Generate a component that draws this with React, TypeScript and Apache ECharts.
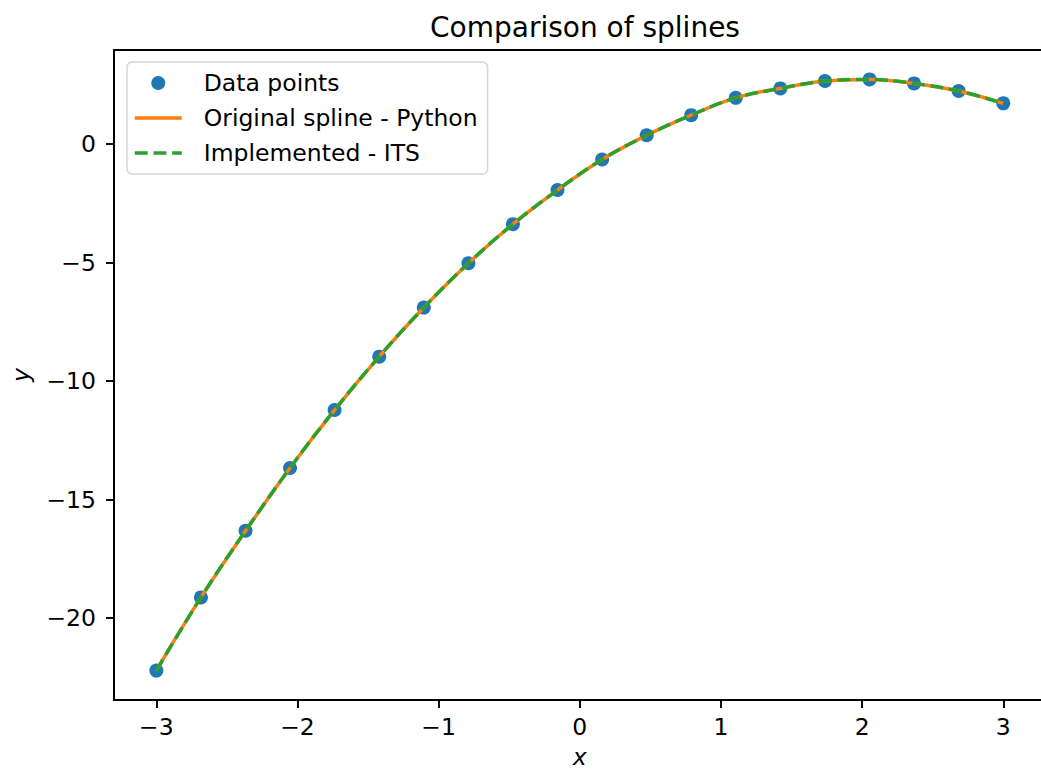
import React, { useEffect, useRef } from "react";
import * as echarts from "echarts";

const xValues = [-3, -2.684, -2.368, -2.053, -1.737, -1.421, -1.105, -0.789, -0.474, -0.158, 0.158, 0.474, 0.789, 1.105, 1.421, 1.737, 2.053, 2.368, 2.684, 3];
const yValues = [-22.22, -19.13, -16.32, -13.67, -11.22, -8.97, -6.9, -5.03, -3.38, -1.94, -0.65, 0.37, 1.22, 1.95, 2.35, 2.66, 2.73, 2.56, 2.24, 1.72];
const xTicks = [-3, -2, -1, 0, 1, 2, 3];
const yTicks = [-20, -15, -10, -5, 0];
const seriesNames = ["Data points", "Original spline - Python", "Implemented - ITS"];

const FONT = "DejaVu Sans";
const BLUE = "#1f77b4";
const ORANGE = "#ff7f0e";
const GREEN = "#2ca02c";
const DASH = [13, 5.7];

export default function App() {
  const ref = useRef<HTMLDivElement>(null);
  useEffect(() => {
    if (!ref.current) return;
    const chart = echarts.init(ref.current, null, { renderer: "svg" });
    const pts = xValues.map((x, i) => [x, yValues[i]]);
    const fmt = (v: number) => (v < 0 ? "\u2212" + Math.abs(v) : String(v));
    chart.setOption({
      animation: false,
      backgroundColor: "#ffffff",
      textStyle: { fontFamily: FONT },
      title: {
        text: "Comparison of splines",
        left: 580,
        top: 8,
        textAlign: "center",
        textStyle: { fontFamily: FONT, fontSize: 28, fontWeight: "normal", color: "#000" },
      },
      legend: {
        orient: "vertical",
        left: 127,
        top: 62,
        itemWidth: 47,
        itemHeight: 14,
        itemGap: 11,
        padding: [9, 10, 9, 6],
        backgroundColor: "#ffffff",
        borderColor: "#d6d6d6",
        borderWidth: 1.5,
        borderRadius: 5,
        data: [
          { name: seriesNames[0], itemStyle: { color: BLUE, opacity: 1 } },
          {
            name: seriesNames[1],
            itemStyle: { opacity: 0 },
            lineStyle: { color: ORANGE, width: 3.5, type: "solid" },
          },
          {
            name: seriesNames[2],
            itemStyle: { opacity: 0 },
            lineStyle: { color: GREEN, width: 3.5, type: DASH },
          },
        ],
        textStyle: { fontFamily: FONT, fontSize: 23.5, color: "#000", lineHeight: 24, padding: [0, 0, 0, 17] },
      },
      grid: {
        left: 114,
        top: 50,
        width: 931.6,
        height: 650,
        outerBoundsMode: "none",
        containLabel: false,
        show: true,
        borderColor: "#000",
        borderWidth: 1.9,
        backgroundColor: "transparent",
      },
      xAxis: {
        type: "value",
        min: -3.3,
        max: 3.3,
        name: "x",
        nameLocation: "middle",
        nameGap: 46,
        nameTextStyle: { fontFamily: FONT, fontSize: 23.5, fontStyle: "italic", color: "#000", lineHeight: 22 },
        axisLine: { show: true, onZero: false, lineStyle: { color: "#000", width: 1.9 } },
        axisTick: { show: true, length: 8, lineStyle: { color: "#000", width: 1.9 }, customValues: xTicks },
        axisLabel: { fontFamily: FONT, fontSize: 23.5, color: "#000", margin: 15, customValues: xTicks, formatter: fmt },
        splitLine: { show: false },
      },
      yAxis: {
        type: "value",
        min: -23.46,
        max: 3.97,
        name: "y",
        nameLocation: "middle",
        nameGap: 82,
        nameTextStyle: { fontFamily: FONT, fontSize: 23.5, fontStyle: "italic", color: "#000" },
        axisLine: { show: true, onZero: false, lineStyle: { color: "#000", width: 1.9 } },
        axisTick: { show: true, length: 8, lineStyle: { color: "#000", width: 1.9 }, customValues: yTicks },
        axisLabel: { fontFamily: FONT, fontSize: 23.5, color: "#000", margin: 18, customValues: yTicks, formatter: fmt },
        splitLine: { show: false },
      },
      series: [
        {
          name: seriesNames[0],
          type: "scatter",
          data: pts,
          symbol: "circle",
          symbolSize: 14,
          itemStyle: { color: BLUE, opacity: 1 },
          z: 2,
        },
        {
          name: seriesNames[1],
          type: "line",
          data: pts,
          smooth: 0.4,
          symbol: "none",
          showSymbol: false,
          lineStyle: { color: ORANGE, width: 3.5 },
          itemStyle: { color: ORANGE },
          z: 3,
        },
        {
          name: seriesNames[2],
          type: "line",
          data: pts,
          smooth: 0.4,
          symbol: "none",
          showSymbol: false,
          lineStyle: { color: GREEN, width: 3.5, type: DASH },
          itemStyle: { color: GREEN },
          z: 4,
        },
      ],
    });
    return () => chart.dispose();
  }, []);
  return (
    <div
      ref={ref}
      style={{ position: "absolute", left: 0, top: 0, width: 1041, height: 771, overflow: "hidden" }}
    />
  );
}
